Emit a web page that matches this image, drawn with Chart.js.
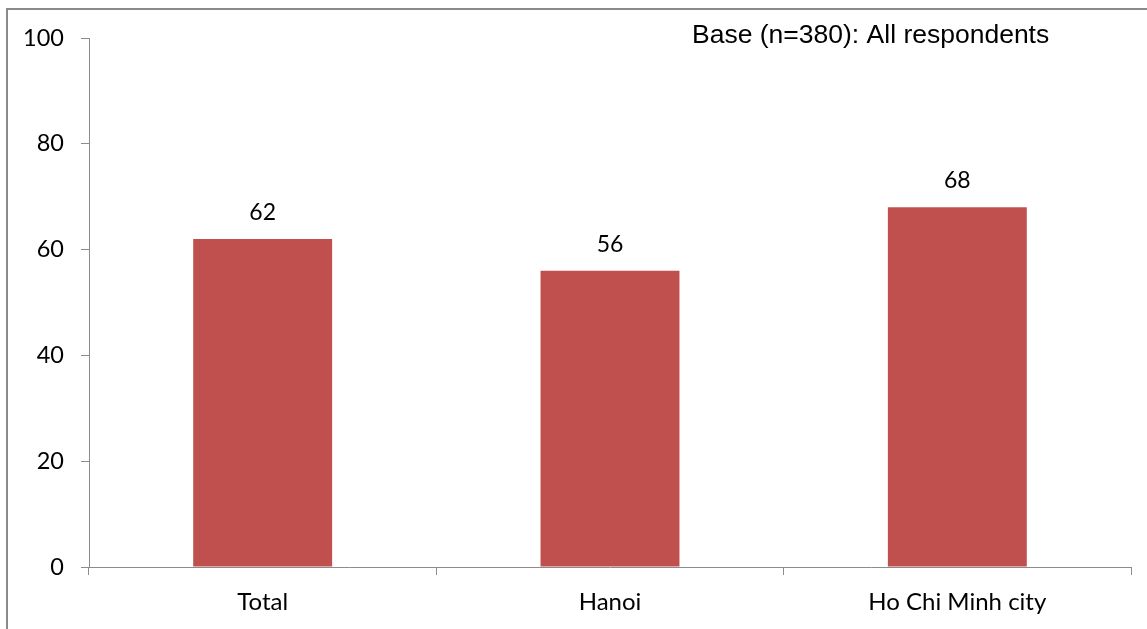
<!DOCTYPE html>
<html>
<head>
<meta charset="utf-8">
<script src="https://cdn.jsdelivr.net/npm/chart.js@4/dist/chart.umd.min.js"></script>
<style>
  html, body { margin: 0; padding: 0; background: #ffffff; }
  #wrap { position: relative; width: 1147px; height: 629px; }
</style>
</head>
<body>
<div id="wrap"><canvas id="chart" width="1147" height="629"></canvas></div>
<script>
// Share of respondents by city
const categories = ['Total', 'Hanoi', 'Ho Chi Minh city'];
const values = [62, 56, 68];
const yTicks = [0, 20, 40, 60, 80, 100];
const baseNote = 'Base (n=380): All respondents';

const BAR_COLOR = '#C0504D';
const AXIS_COLOR = '#8c8c8c';
const LABEL_FONT = 'Lato, "Open Sans", sans-serif';

// Partial frame around the chart (left and top edges)
const framePlugin = {
  id: 'frame',
  beforeDraw(chart) {
    const ctx = chart.ctx;
    ctx.save();
    ctx.strokeStyle = '#8a8a8a';
    ctx.lineWidth = 2;
    ctx.beginPath();
    ctx.moveTo(7, chart.height);
    ctx.lineTo(7, 9);
    ctx.lineTo(chart.width, 9);
    ctx.stroke();
    ctx.restore();
  }
};

// Value labels above each bar, plus the base note
const labelPlugin = {
  id: 'valueLabels',
  afterDatasetsDraw(chart) {
    const ctx = chart.ctx;
    const meta = chart.getDatasetMeta(0);
    ctx.save();
    ctx.fillStyle = '#000000';
    ctx.font = '23px ' + LABEL_FONT;
    ctx.textAlign = 'center';
    ctx.textBaseline = 'alphabetic';
    meta.data.forEach((bar, i) => {
      ctx.fillText(String(values[i]), bar.x, bar.y - 19);
    });
    ctx.font = '26.5px "Liberation Sans", Arial, sans-serif';
    ctx.textAlign = 'left';
    ctx.fillText(baseNote, chart.chartArea.left + 603, chart.chartArea.top + 5);
    ctx.restore();
  }
};

new Chart(document.getElementById('chart'), {
  type: 'bar',
  data: {
    labels: categories,
    datasets: [{
      data: values,
      backgroundColor: BAR_COLOR,
      borderWidth: 0,
      categoryPercentage: 1.0,
      barPercentage: 0.4
    }]
  },
  options: {
    responsive: false,
    animation: false,
    devicePixelRatio: 1,
    layout: { padding: { top: 38, right: 16, bottom: 0, left: 0 } },
    plugins: {
      legend: { display: false },
      tooltip: { enabled: false },
      title: { display: false }
    },
    scales: {
      x: {
        grid: {
          display: true,
          drawOnChartArea: false,
          drawTicks: true,
          tickLength: 8,
          color: AXIS_COLOR,
          offset: true
        },
        border: { display: true, color: AXIS_COLOR, width: 1 },
        ticks: {
          color: '#000000',
          font: { family: LABEL_FONT, size: 24 },
          padding: 13,
          maxRotation: 0
        },
        afterFit(scale) { scale.height = 62; }
      },
      y: {
        min: 0,
        max: 100,
        afterBuildTicks(scale) {
          scale.ticks = yTicks.map(v => ({ value: v }));
        },
        grid: {
          display: true,
          drawOnChartArea: false,
          drawTicks: true,
          tickLength: 8,
          color: AXIS_COLOR
        },
        border: { display: true, color: AXIS_COLOR, width: 1 },
        ticks: {
          color: '#000000',
          font: { family: LABEL_FONT, size: 23.5 },
          padding: 17
        },
        afterFit(scale) { scale.width = 89; }
      }
    }
  },
  plugins: [framePlugin, labelPlugin]
});
</script>
</body>
</html>
